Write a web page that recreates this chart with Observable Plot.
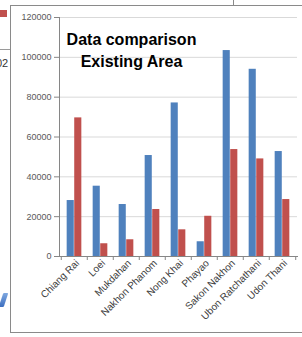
<!DOCTYPE html>
<html>
<head>
<meta charset="utf-8">
<script src="https://cdn.jsdelivr.net/npm/d3@7"></script>
<script src="https://cdn.jsdelivr.net/npm/@observablehq/plot@0.6"></script>
<style>
  html, body { margin: 0; padding: 0; background: #fff; }
  #page { position: relative; width: 302px; height: 337px; overflow: hidden; font-family: "Liberation Sans", Arial, sans-serif; }
  .deco { position: absolute; }
  #chart { position: absolute; left: 0; top: 0; }
</style>
</head>
<body>
<div id="page">
  <div class="deco" style="left:10px;top:5px;width:300px;height:326px;border:1px solid #8a8a8a;"></div>
  <div class="deco" style="left:233px;top:0;width:1px;height:5px;background:#8a8a8a;"></div>
  <div class="deco" style="left:0;top:10px;width:7px;height:7px;background:#C0504D;"></div>
  <div class="deco" style="left:0;top:49px;width:10px;height:1px;background:#9a9a9a;"></div>
  <div class="deco" style="left:-4px;top:57px;font-size:11px;color:#333;">02</div>
  <div class="deco" style="left:1px;top:293px;width:5px;height:14px;background:linear-gradient(#7fa8e0,#3d6fc0);transform:skewX(-18deg);border-radius:1px;"></div>
  <div id="chart"></div>
</div>
<script>
const cities = ["Chiang Rai", "Loei", "Mukdahan", "Nakhon Phanom", "Nong Khai", "Phayao", "Sakon Nakhon", "Ubon Ratchathani", "Udon Thani"];
const series1 = [28100, 35300, 26100, 50700, 77100, 7400, 103400, 94000, 52700];
const series2 = [69600, 6400, 8400, 23600, 13400, 20200, 53700, 49000, 28600];
const yTicks = [0, 20000, 40000, 60000, 80000, 100000, 120000];
const titleLines = "Data comparison\nExisting Area";

const W = 302, H = 337, mL = 59, mR = 5, mT = 17, mB = 81;
const step = (W - mL - mR) / cities.length;
const bw = step / 3.5;
const gap = (step - 2 * bw) / 2;

const rows1 = cities.map((c, i) => ({city: c, value: series1[i]}));
const rows2 = cities.map((c, i) => ({city: c, value: series2[i]}));

const chart = Plot.plot({
  width: W, height: H,
  marginLeft: mL, marginRight: mR, marginTop: mT, marginBottom: mB,
  style: {fontFamily: "'Liberation Sans', Arial, sans-serif", fontSize: "9px", background: "transparent", overflow: "visible"},
  x: {type: "band", domain: cities, padding: 0, label: null, axis: null},
  y: {domain: [0, 120000], label: null, axis: null},
  marks: [
    Plot.gridY(yTicks, {stroke: "#d9d9d9", strokeOpacity: 1}),
    Plot.barY(rows1, {x: "city", y: "value", fill: "#4F81BD", insetLeft: gap, insetRight: gap + bw}),
    Plot.barY(rows2, {x: "city", y: "value", fill: "#C0504D", insetLeft: gap + bw, insetRight: gap}),
    Plot.frame({anchor: "left", stroke: "#868686"}),
    Plot.frame({anchor: "bottom", stroke: "#868686"}),
    Plot.axisY(yTicks, {tickSize: 5, tickPadding: 3, stroke: "#868686", fill: "#595959", tickFormat: d => String(d), fontSize: 9}),
    Plot.axisX(cities, {tickSize: 4, dx: -step / 2, stroke: "#868686", tickFormat: () => ""}),
    Plot.axisX(cities.slice(-1), {tickSize: 4, dx: step / 2, stroke: "#868686", tickFormat: () => ""}),
    Plot.axisX(cities, {tickSize: 0, tickPadding: 5, tickRotate: -45, dx: 3, fill: "#404040", fontSize: 10}),
    Plot.text([titleLines], {frameAnchor: "top-left", dx: 72, dy: 11.6, textAnchor: "middle", lineAnchor: "top", lineHeight: 1.4, fontSize: 16, fontWeight: "bold", fill: "#000"})
  ]
});
document.getElementById("chart").appendChild(chart);
</script>
</body>
</html>
